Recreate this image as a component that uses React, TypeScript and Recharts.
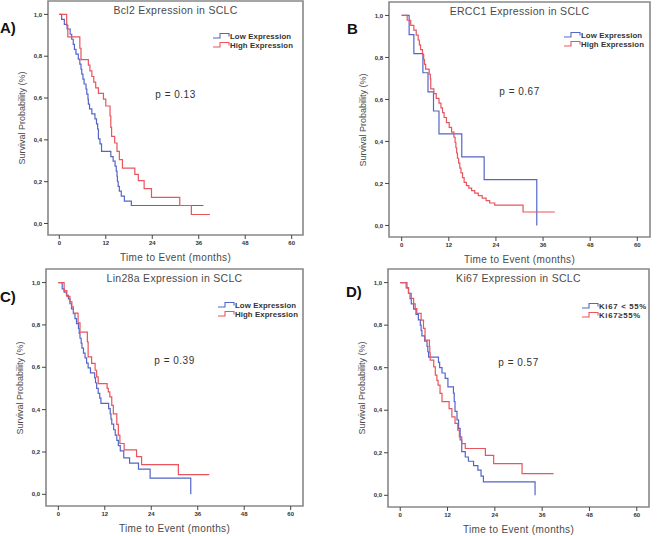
import React from 'react';
import { LineChart, Line, XAxis, YAxis, ReferenceArea } from 'recharts';

// Kaplan-Meier steps: [months, survival]
type Step = [number, number];

const MONTH_TICKS = [0, 12, 24, 36, 48, 60];
const SURV_TICKS = [0, 0.2, 0.4, 0.6, 0.8, 1.0];
const Y_DOMAIN: [number, number] = [-0.055, 1.064];

const bcl2Low: Step[] = [
  [0, 1], [0.6, 0.976], [1.3, 0.952], [2.0, 0.93], [2.8, 0.905], [3.2, 0.881], [3.6, 0.857],
  [3.9, 0.833], [4.3, 0.81], [4.9, 0.786], [5.3, 0.762], [5.6, 0.738], [5.8, 0.714], [6.1, 0.69],
  [6.4, 0.667], [6.9, 0.643], [7.1, 0.619], [7.4, 0.595], [7.5, 0.571], [7.8, 0.548], [8.4, 0.524],
  [9.2, 0.5], [9.6, 0.476], [9.9, 0.452], [10.1, 0.405], [10.5, 0.381], [10.9, 0.345], [13.3, 0.32],
  [13.9, 0.298], [14.4, 0.274], [14.7, 0.25], [14.9, 0.226], [15.0, 0.202], [15.2, 0.178],
  [15.5, 0.155], [16.0, 0.131], [16.8, 0.107], [18.6, 0.086], [37.2, 0.086],
];
const bcl2High: Step[] = [
  [0, 1], [1.9, 0.947], [2.2, 0.892], [5.3, 0.838], [5.6, 0.784], [7.5, 0.757], [7.9, 0.73],
  [8.4, 0.703], [8.9, 0.676], [9.4, 0.649], [10.1, 0.622], [11.4, 0.595], [12.0, 0.562],
  [13.1, 0.514], [13.3, 0.46], [13.5, 0.417], [14.3, 0.385], [14.9, 0.345], [15.5, 0.305],
  [16.3, 0.265], [19.5, 0.235], [20.4, 0.205], [21.9, 0.167], [23.8, 0.125], [31.1, 0.086],
  [34.1, 0.043], [38.9, 0.043],
];

const ercc1Low: Step[] = [
  [0, 1], [1.9, 0.909], [3.1, 0.818], [5.4, 0.727], [6.7, 0.636], [8.1, 0.545], [9.5, 0.436],
  [15.3, 0.327], [21.0, 0.218], [34.4, 0],
];
const ercc1High: Step[] = [
  [0, 1], [1.4, 0.977], [2.3, 0.953], [3.1, 0.93], [3.7, 0.906], [4.2, 0.883], [4.5, 0.86],
  [4.8, 0.837], [5.3, 0.814], [5.6, 0.79], [5.8, 0.767], [6.1, 0.744], [7.0, 0.72], [7.3, 0.698],
  [7.4, 0.65], [8.2, 0.628], [8.8, 0.605], [9.5, 0.582], [10.0, 0.56], [10.4, 0.537], [10.8, 0.514],
  [11.4, 0.49], [12.1, 0.467], [12.7, 0.444], [13.3, 0.42], [13.6, 0.395], [13.8, 0.37],
  [14.0, 0.345], [14.2, 0.32], [14.5, 0.297], [14.8, 0.273], [15.1, 0.25], [15.5, 0.228],
  [15.9, 0.205], [16.5, 0.19], [17.1, 0.178], [17.8, 0.166], [18.6, 0.154], [19.5, 0.142],
  [20.5, 0.13], [21.5, 0.118], [22.4, 0.107], [23.7, 0.097], [30.9, 0.064], [39.0, 0.064],
];

const lin28Low: Step[] = [
  [0, 1], [1.0, 0.97], [1.5, 0.955], [2.1, 0.94], [2.6, 0.923], [3.0, 0.9], [3.4, 0.876],
  [3.9, 0.853], [4.3, 0.83], [4.7, 0.806], [5.2, 0.783], [5.4, 0.76], [5.6, 0.737], [5.9, 0.714],
  [6.1, 0.69], [6.5, 0.667], [6.9, 0.644], [7.3, 0.62], [7.7, 0.597], [8.3, 0.574], [9.4, 0.55],
  [9.6, 0.527], [9.9, 0.5], [10.3, 0.477], [10.7, 0.454], [11.0, 0.43], [13.0, 0.405],
  [13.4, 0.38], [13.6, 0.355], [13.8, 0.332], [14.3, 0.305], [14.7, 0.28], [15.1, 0.255],
  [15.5, 0.23], [16.0, 0.205], [16.9, 0.172], [18.4, 0.147], [20.7, 0.119], [23.7, 0.077],
  [34.2, 0],
];
const lin28High: Step[] = [
  [0, 1], [1.5, 0.962], [2.2, 0.935], [3.0, 0.91], [3.5, 0.885], [3.9, 0.856], [5.1, 0.81],
  [5.6, 0.766], [7.5, 0.72], [7.7, 0.649], [8.6, 0.618], [9.5, 0.586], [9.9, 0.555],
  [10.3, 0.523], [12.6, 0.5], [12.9, 0.484], [13.3, 0.46], [13.8, 0.42], [14.2, 0.38],
  [15.1, 0.33], [15.5, 0.28], [15.9, 0.24], [17.0, 0.21], [20.2, 0.178], [21.5, 0.14],
  [31.0, 0.093], [39.0, 0.093],
];

const ki67Low: Step[] = [
  [0, 1], [1.7, 0.975], [2.1, 0.95], [2.5, 0.925], [2.8, 0.9], [3.4, 0.875], [4.0, 0.85],
  [4.6, 0.825], [5.1, 0.8], [5.3, 0.775], [5.5, 0.75], [6.2, 0.725], [6.8, 0.7], [7.0, 0.675],
  [7.2, 0.65], [9.7, 0.625], [10.0, 0.6], [10.6, 0.575], [11.4, 0.55], [12.1, 0.51],
  [13.5, 0.48], [13.7, 0.44], [13.9, 0.395], [14.4, 0.355], [14.8, 0.315], [15.2, 0.26],
  [15.6, 0.205], [16.5, 0.18], [17.3, 0.16], [18.6, 0.14], [19.7, 0.118], [20.5, 0.09],
  [21.1, 0.063], [34.2, 0],
];
const ki67High: Step[] = [
  [0, 1], [1.5, 0.975], [2.1, 0.95], [2.8, 0.926], [3.4, 0.9], [3.8, 0.878], [4.2, 0.855],
  [5.3, 0.824], [5.9, 0.785], [6.3, 0.73], [7.4, 0.7], [7.5, 0.67], [7.6, 0.636], [8.5, 0.604],
  [8.9, 0.565], [9.3, 0.54], [9.6, 0.518], [10.1, 0.479], [10.6, 0.44], [12.4, 0.408],
  [13.1, 0.369], [13.9, 0.338], [14.6, 0.306], [15.0, 0.275], [15.6, 0.243], [16.5, 0.22],
  [21.6, 0.188], [23.7, 0.149], [30.9, 0.102], [38.9, 0.102],
];

const BLUE = '#5366c8';
const RED = '#e9545d';
const FONT = '"Liberation Sans", Arial, sans-serif';

const toPts = (steps: Step[]) => steps.map(([t, s]) => ({ t, s }));

const panels = [
  {
    letter: 'A)', letterX: 0, letterY: 27,
    frame: { x: 48, y: 1, w: 255, h: 234 }, xPad: 2.92,
    title: 'Bcl2 Expression in SCLC', p: 'p = 0.13', pY: 94,
    legend: ['Low Expression', 'High Expression'], legX: 213, legY: 36,
    low: bcl2Low, high: bcl2High,
  },
  {
    letter: 'B', letterX: 347, letterY: 28,
    frame: { x: 389, y: 2, w: 261, h: 235 }, xPad: 3.23,
    title: 'ERCC1 Expression in SCLC', p: 'p = 0.67', pY: 91,
    legend: ['Low Expression', 'High Expression'], legX: 564, legY: 35,
    low: ercc1Low, high: ercc1High,
  },
  {
    letter: 'C)', letterX: 0, letterY: 296,
    frame: { x: 46, y: 269, w: 257, h: 237 }, xPad: 3.18,
    title: 'Lin28a Expression in SCLC', p: 'p = 0.39', pY: 360,
    legend: ['Low Expression', 'High Expression'], legX: 218, legY: 305,
    low: lin28Low, high: lin28High,
  },
  {
    letter: 'D)', letterX: 346, letterY: 291,
    frame: { x: 388, y: 269, w: 261, h: 238 }, xPad: 3.1,
    title: 'Ki67 Expression in SCLC', p: 'p = 0.57', pY: 362,
    legend: ['Ki67 < 55%', 'Ki67\u226555%'], legX: 582, legY: 306, spaced: true,
    low: ki67Low, high: ki67High,
  },
];

const StepIcon = ({ color }: { color: string }) => (
  <svg width={17} height={7} style={{ marginRight: 0, flex: 'none' }}>
    <path d="M0,5.5 H7 V1 H16 V4" fill="none" stroke={color} strokeWidth={1.1} />
  </svg>
);

function KMPanel({ cfg }: { cfg: (typeof panels)[number] }) {
  const { frame, xPad } = cfg;
  const W = frame.w + 35;
  const H = frame.h + 25;
  const xDomain: [number, number] = [-xPad, 60 + xPad];
  const cx = frame.x + frame.w / 2;
  const tick = { fontSize: 6, fill: '#333', fontWeight: 'bold' as const, fontFamily: FONT };
  const centered: React.CSSProperties = {
    position: 'absolute', transform: 'translate(-50%, -50%)', whiteSpace: 'nowrap', color: '#4a4a4a',
  };
  return (
    <>
      <div style={{ position: 'absolute', left: frame.x - 30, top: frame.y - 5 }}>
        <LineChart width={W} height={H} margin={{ top: 5, right: 5, left: 16, bottom: 0 }}>
          <XAxis
            dataKey="t" type="number" domain={xDomain} ticks={MONTH_TICKS} allowDataOverflow
            axisLine={false} tickLine={{ stroke: '#444' }} tickSize={4} height={20} tick={tick}
          />
          <YAxis
            dataKey="s" type="number" domain={Y_DOMAIN} ticks={SURV_TICKS} allowDataOverflow
            axisLine={false} tickLine={{ stroke: '#444' }} tickSize={4} width={14} tick={tick}
            tickFormatter={(v: number) => v.toFixed(1).replace('.', ',')}
          />
          <ReferenceArea
            x1={xDomain[0]} x2={xDomain[1]} y1={Y_DOMAIN[0]} y2={Y_DOMAIN[1]}
            fill="none" stroke="#888" strokeWidth={1.6} fillOpacity={0}
          />
          <Line data={toPts(cfg.low)} dataKey="s" type="stepAfter" stroke={BLUE} strokeWidth={1.2} dot={false} isAnimationActive={false} />
          <Line data={toPts(cfg.high)} dataKey="s" type="stepAfter" stroke={RED} strokeWidth={1.2} dot={false} isAnimationActive={false} />
        </LineChart>
      </div>
      <div style={{ ...centered, left: cx, top: frame.y + 9, fontSize: 10.5, letterSpacing: 0.3 }}>{cfg.title}</div>
      <div style={{ ...centered, left: cx, top: cfg.pY, fontSize: 10, color: '#333', letterSpacing: 0.5 }}>{cfg.p}</div>
      <div style={{ ...centered, left: cx, top: frame.y + frame.h + 22, fontSize: 10, letterSpacing: 0.35 }}>
        Time to Event (months)
      </div>
      <div style={{ ...centered, left: frame.x - 26, top: frame.y + frame.h / 2, fontSize: 9, transform: 'translate(-50%, -50%) rotate(-90deg)' }}>
        Survival Probability (%)
      </div>
      <div style={{ position: 'absolute', left: cfg.letterX, top: cfg.letterY, transform: 'translateY(-50%)', fontSize: 15, fontWeight: 'bold', color: '#111' }}>
        {cfg.letter}
      </div>
      {cfg.legend.map((name, i) => (
        <div
          key={name}
          style={{
            position: 'absolute', left: cfg.legX, top: cfg.legY + i * 9, transform: 'translateY(-50%)',
            display: 'flex', alignItems: 'center', fontSize: 7.8, fontWeight: 'bold', color: '#333',
            whiteSpace: 'nowrap', letterSpacing: (cfg as any).spaced ? 0.7 : 0.1,
          }}
        >
          <StepIcon color={i === 0 ? BLUE : RED} />
          {name}
        </div>
      ))}
    </>
  );
}

export default function App() {
  return (
    <div style={{ position: 'absolute', left: 0, top: 0, width: 659, height: 536, background: '#fff', fontFamily: FONT, overflow: 'hidden' }}>
      {panels.map((cfg) => (
        <KMPanel key={cfg.letter} cfg={cfg} />
      ))}
    </div>
  );
}
